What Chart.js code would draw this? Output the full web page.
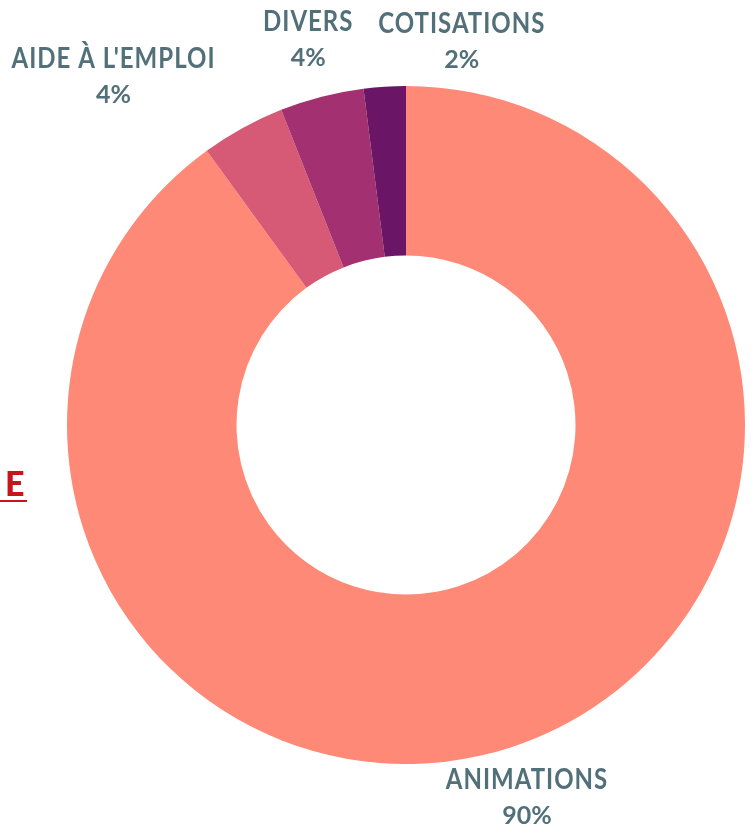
<!DOCTYPE html>
<html>
<head>
<meta charset="utf-8">
<script src="https://cdn.jsdelivr.net/npm/chart.js@4"></script>
<style>
  html, body { margin: 0; padding: 0; background: #ffffff; }
  #wrap { position: relative; width: 756px; height: 834px; overflow: hidden; }
  #c { position: absolute; left: 0; top: 0; }
  #cut { position: absolute; left: 0; top: 466px; width: 22px; padding-left: 5px;
         font-family: Lato, sans-serif; font-weight: 900; font-size: 34px; line-height: 34px;
         color: #c8151b; border-bottom: 2px solid #c8151b; }
</style>
</head>
<body>
<div id="wrap">
  <canvas id="c" width="756" height="834"></canvas>
  <div id="cut">E</div>
</div>
<script>
// ---- data ----
const categories = ["Animations", "Aide à l'emploi", "Divers", "Cotisations"];
const values = [90, 4, 4, 2];
const percentLabels = ["90%", "4%", "4%", "2%"];

// ---- styling ----
const sliceColors = ["#fe8977", "#d65a76", "#a33070", "#6a1566"];
const labelOffsets = [[2, 7], [-107, -11], [-2, -12], [80, 1]];

const labelPlugin = {
  id: 'outerLabels',
  afterDraw(chart) {
    const ctx = chart.ctx;
    const meta = chart.getDatasetMeta(0);
    ctx.save();
    ctx.fillStyle = '#52707a';
    ctx.textAlign = 'center';
    ctx.textBaseline = 'middle';
    meta.data.forEach((el, i) => {
      const p = el.getProps(['x', 'y', 'startAngle', 'endAngle', 'outerRadius'], true);
      const mid = (p.startAngle + p.endAngle) / 2;
      const r = p.outerRadius + 46;
      const cx = p.x + Math.cos(mid) * r + labelOffsets[i][0];
      const cy = p.y + Math.sin(mid) * r + labelOffsets[i][1];
      ctx.save();
      ctx.translate(cx, cy - 18);
      ctx.scale(1, 1.16);
      ctx.letterSpacing = '1px';
      ctx.font = '700 24px Lato, sans-serif';
      ctx.fillText(categories[i].toUpperCase(), 0, 0);
      ctx.restore();
      ctx.letterSpacing = '0px';
      ctx.font = '700 25px Lato, sans-serif';
      ctx.fillText(percentLabels[i], cx, cy + 18);
    });
    ctx.restore();
  }
};

new Chart(document.getElementById('c'), {
  type: 'doughnut',
  data: {
    labels: categories,
    datasets: [{
      data: values,
      backgroundColor: sliceColors,
      borderWidth: 0,
      hoverOffset: 0
    }]
  },
  options: {
    responsive: false,
    animation: false,
    cutout: '50%',
    layout: { padding: { left: 67, right: 11, top: 86, bottom: 70 } },
    plugins: { legend: { display: false }, tooltip: { enabled: false } },
    events: []
  },
  plugins: [labelPlugin]
});
</script>
</body>
</html>
